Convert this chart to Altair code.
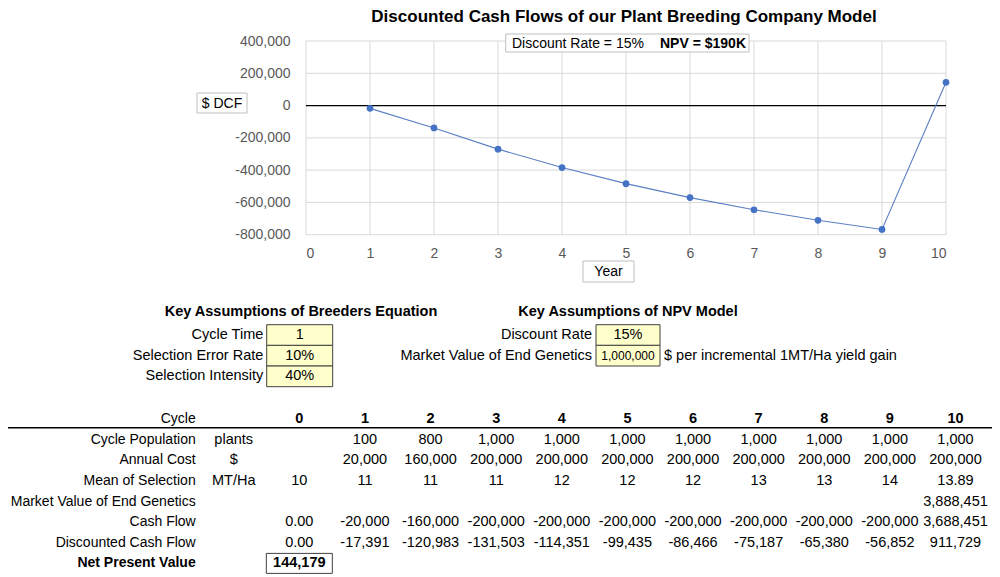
import altair as alt
import pandas as pd

# ---------------- data ----------------
years = [1, 2, 3, 4, 5, 6, 7, 8, 9, 10]
cumulative_dcf = [-17391, -138374, -269877, -384228, -483663, -570129,
                  -645316, -710696, -767548, 144181]
x_ticks = [0, 1, 2, 3, 4, 5, 6, 7, 8, 9, 10]
y_ticks = [-800000, -600000, -400000, -200000, 0, 200000, 400000]

title_text = "Discounted Cash Flows of our Plant Breeding Company Model"
annot_left = "Discount Rate = 15%"
annot_right = "NPV = $190K"
y_title = "$ DCF"
x_title = "Year"

heading_breed = "Key Assumptions of Breeders Equation"
heading_npv = "Key Assumptions of NPV Model"
breed_labels = ["Cycle Time", "Selection Error Rate", "Selection Intensity"]
breed_values = ["1", "10%", "40%"]
npv_labels = ["Discount Rate", "Market Value of End Genetics"]
npv_values = ["15%", "1,000,000"]
npv_notes = ["", "$ per incremental 1MT/Ha yield gain"]

cycles = ["0", "1", "2", "3", "4", "5", "6", "7", "8", "9", "10"]
row_labels = ["Cycle", "Cycle Population", "Annual Cost", "Mean of Selection",
              "Market Value of End Genetics", "Cash Flow",
              "Discounted Cash Flow", "Net Present Value"]
row_units = ["", "plants", "$", "MT/Ha", "", "", "", ""]
cycle_population = ["", "100", "800", "1,000", "1,000", "1,000", "1,000",
                    "1,000", "1,000", "1,000", "1,000"]
annual_cost = ["", "20,000", "160,000", "200,000", "200,000", "200,000",
               "200,000", "200,000", "200,000", "200,000", "200,000"]
mean_selection = ["10", "11", "11", "11", "12", "12", "12", "13", "13", "14", "13.89"]
market_value = ["", "", "", "", "", "", "", "", "", "", "3,888,451"]
cash_flow = ["0.00", "-20,000", "-160,000", "-200,000", "-200,000", "-200,000",
             "-200,000", "-200,000", "-200,000", "-200,000", "3,688,451"]
disc_cash_flow = ["0.00", "-17,391", "-120,983", "-131,503", "-114,351", "-99,435",
                  "-86,466", "-75,187", "-65,380", "-56,852", "911,729"]
npv_row = ["144,179", "", "", "", "", "", "", "", "", "", ""]

# ---------------- layout ----------------
FONT = "Liberation Sans"
TFS = 14.5
RFS = 14
W, H = 984, 569
GRID = "#d9d9d9"
LABEL = "#595959"
BLUE = "#4472c4"

xs = alt.Scale(domain=[0, 10], range=[298, 938], nice=False, zero=False)
ys = alt.Scale(domain=[-800000, 400000], range=[226.7, 33], nice=False, zero=False)
x_axis = alt.Axis(values=x_ticks, orient="bottom", offset=226.7 - H, domain=False,
                  ticks=False, tickSize=0, grid=False, labelPadding=12,
                  labelFontSize=14, labelColor=LABEL, labelFont=FONT, title=None)
y_axis = alt.Axis(values=y_ticks, orient="left", offset=-298, domain=False,
                  ticks=False, tickSize=0, grid=False, labelPadding=16,
                  labelFontSize=14, labelColor=LABEL, labelFont=FONT, title=None,
                  labelExpr="replace(format(datum.value, ','), '\u2212', '-')")

ex = alt.X("Year:Q", scale=xs, axis=x_axis)
ey = alt.Y("DCF:Q", scale=ys, axis=y_axis)

df_line = pd.DataFrame({"Year": years, "DCF": cumulative_dcf})

grid_v = alt.Chart(pd.DataFrame({"Year": x_ticks})).mark_rule(
    color=GRID, strokeWidth=1).encode(
    x=ex, y=alt.YDatum(-800000, scale=ys, axis=y_axis), y2=alt.datum(400000))
grid_h = alt.Chart(pd.DataFrame({"DCF": y_ticks})).mark_rule(
    color=GRID, strokeWidth=1).encode(
    y=ey, x=alt.XDatum(0, scale=xs, axis=x_axis), x2=alt.datum(10))
zero = alt.Chart(pd.DataFrame({"DCF": [0]})).mark_rule(
    color="#000000", strokeWidth=1.3).encode(
    y=ey, x=alt.XDatum(0, scale=xs, axis=x_axis), x2=alt.datum(10))
line = alt.Chart(df_line).mark_line(color="#5a7fc4", strokeWidth=1.1).encode(x=ex, y=ey)
pts = alt.Chart(df_line).mark_circle(color=BLUE, size=45, opacity=1).encode(x=ex, y=ey)
plot = alt.layer(grid_v, grid_h, zero, line, pts)


def text_at(txt, x, y, align="center", bold=False, size=14, color="#000000",
            baseline="middle"):
    return alt.Chart(pd.DataFrame({"t": [txt]})).mark_text(
        font=FONT, fontSize=size, fontWeight="bold" if bold else "normal",
        align=align, baseline=baseline, color=color).encode(
        text="t:N", x=alt.value(x), y=alt.value(y))


def box_at(txt, x, x2, y, y2, fill="#ffffff", stroke="#bfbfbf"):
    return alt.Chart(pd.DataFrame({"t": [txt]})).mark_rect(
        fill=fill, stroke=stroke, strokeWidth=1).encode(
        x=alt.value(x), x2=alt.value(x2), y=alt.value(y), y2=alt.value(y2))


title_t = text_at(title_text, 616, 0.5, bold=True, size=17, baseline="top")
annot_box = box_at(annot_left, 497.7, 741, 26, 44)
annot_t1 = text_at(annot_left, 504, 35.5, align="left")
annot_t2 = text_at(annot_right, 652, 35.5, align="left", bold=True)
ybox = box_at(y_title, 189, 239, 85, 105)
ytxt = text_at(y_title, 214, 95.5)
xbox = box_at(x_title, 575, 626, 253, 274)
xtxt = text_at(x_title, 600.5, 263.5)

head1 = text_at(heading_breed, 293, 303.5, bold=True, size=TFS)
head2 = text_at(heading_npv, 620, 303.5, bold=True, size=TFS)

# assumptions of breeders equation
df_breed = pd.DataFrame({"label": breed_labels, "value": breed_values})
yb = alt.Y("label:N", scale=alt.Scale(type="band", domain=breed_labels,
                                       range=[316.7, 378.7], paddingInner=0,
                                       paddingOuter=0), axis=None)
breed_rect = alt.Chart(df_breed).mark_rect(fill="#ffffcc", stroke="#404040",
                                           strokeWidth=1).encode(
    y=yb, x=alt.value(258.7), x2=alt.value(324.7))
breed_val = alt.Chart(df_breed).mark_text(font=FONT, fontSize=TFS, align="center",
                                          baseline="middle").encode(
    y=yb, x=alt.value(291.7), text="value:N")
breed_lab = alt.Chart(df_breed).mark_text(font=FONT, fontSize=TFS, align="right",
                                          baseline="middle").encode(
    y=yb, x=alt.value(255.3), text="label:N")

# assumptions of NPV model
df_npv = pd.DataFrame({"label": npv_labels, "value": npv_values, "note": npv_notes})
yn = alt.Y("label:N", scale=alt.Scale(type="band", domain=npv_labels,
                                       range=[316.7, 358], paddingInner=0,
                                       paddingOuter=0), axis=None)
npv_rect = alt.Chart(df_npv).mark_rect(fill="#ffffcc", stroke="#404040",
                                       strokeWidth=1).encode(
    y=yn, x=alt.value(588), x2=alt.value(652))
npv_val = alt.Chart(df_npv).mark_text(font=FONT, align="center",
                                      baseline="middle").encode(
    y=yn, x=alt.value(620), text="value:N",
    size=alt.condition("datum.label == 'Market Value of End Genetics'",
                       alt.value(12), alt.value(TFS)))
npv_lab = alt.Chart(df_npv).mark_text(font=FONT, fontSize=TFS, align="right",
                                      baseline="middle").encode(
    y=yn, x=alt.value(584), text="label:N")
npv_note = alt.Chart(df_npv).mark_text(font=FONT, fontSize=TFS, align="left",
                                       baseline="middle").encode(
    y=yn, x=alt.value(656), text="note:N")

# table
row_values = [cycles, cycle_population, annual_cost, mean_selection, market_value,
              cash_flow, disc_cash_flow, npv_row]
recs = []
for lab, unit, vals in zip(row_labels, row_units, row_values):
    if unit:
        recs.append({"label": lab, "col": "u", "t": unit})
    for c, v in zip(cycles, vals):
        if v:
            recs.append({"label": lab, "col": c, "t": v})
df_cells = pd.DataFrame(recs)
df_rows = pd.DataFrame({"label": row_labels})

tx = alt.X("col:N", scale=alt.Scale(type="point", domain=["u"] + cycles,
                                     range=[225.7, 947.5], padding=0), axis=None)
ty = alt.Y("label:N", scale=alt.Scale(type="point", domain=row_labels,
                                       range=[411, 555.4], padding=0), axis=None)
bold_rows = "datum.label == 'Cycle' || datum.label == 'Net Present Value'"

cells_n = alt.Chart(df_cells).transform_filter("!(" + bold_rows + ")").mark_text(
    font=FONT, fontSize=TFS, align="center", baseline="middle").encode(
    x=tx, y=ty, text="t:N")
cells_b = alt.Chart(df_cells).transform_filter(bold_rows).mark_text(
    font=FONT, fontSize=TFS, fontWeight="bold", align="center",
    baseline="middle").encode(x=tx, y=ty, text="t:N")
rows_n = alt.Chart(df_rows).transform_filter(
    "datum.label != 'Net Present Value'").mark_text(
    font=FONT, fontSize=RFS, align="right", baseline="middle").encode(
    y=ty, x=alt.value(187.7), text="label:N")
rows_b = alt.Chart(df_rows).transform_filter(
    "datum.label == 'Net Present Value'").mark_text(
    font=FONT, fontSize=RFS, fontWeight="bold", align="right",
    baseline="middle").encode(y=ty, x=alt.value(187.7), text="label:N")
hdr_rule = alt.Chart(df_rows.head(1)).mark_rule(color="#000000", strokeWidth=1.5).encode(
    x=alt.value(0), x2=alt.value(985), y=alt.value(419.7))
npv_box = alt.Chart(pd.DataFrame({"label": [row_labels[-1]], "col": [cycles[0]]})).mark_point(
    shape="M-1,-0.303H1V0.303H-1Z", size=66 * 66, filled=False, stroke="#404040",
    strokeWidth=1, opacity=1).encode(x=tx, y=ty)

chart = alt.layer(
    plot, title_t, annot_box, annot_t1, annot_t2, ybox, ytxt, xbox, xtxt,
    head1, head2, breed_rect, breed_val, breed_lab,
    npv_rect, npv_val, npv_lab, npv_note,
    hdr_rule, rows_n, rows_b, cells_n, cells_b, npv_box,
).resolve_scale(x="independent", y="independent").properties(
    width=W, height=H, autosize=alt.AutoSizeParams(type="none"), padding=0,
    background="#ffffff",
).configure_view(stroke=None)

chart.save("out.html", embed_options={"renderer": "svg", "actions": False})
